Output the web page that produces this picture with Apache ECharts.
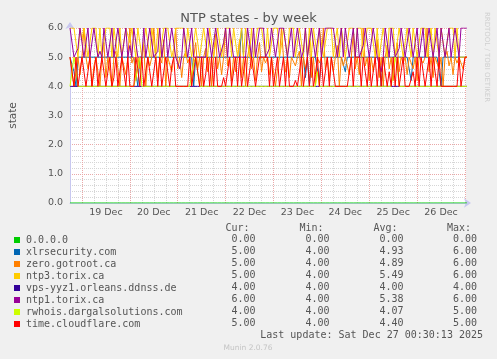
<!DOCTYPE html>
<html>
<head>
<meta charset="utf-8">
<script src="https://cdn.jsdelivr.net/npm/echarts@6/dist/echarts.min.js"></script>
<style>html,body{margin:0;padding:0;background:#F0F0F0;}#c{width:497px;height:359px;}</style>
</head>
<body>
<div id="c"></div>
<script>
// ---- data ----
const startTime = new Date(2025, 11, 18, 18, 0).getTime();
const endTime = new Date(2025, 11, 27, 0, 30).getTime();
const stepHours = 1;
const monthNames = ['Jan','Feb','Mar','Apr','May','Jun','Jul','Aug','Sep','Oct','Nov','Dec'];
const yTicks = ['0.0','1.0','2.0','3.0','4.0','5.0','6.0'];

const names = ['0.0.0.0','xlrsecurity.com','zero.gotroot.ca','ntp3.torix.ca','vps-yyz1.orleans.ddnss.de','ntp1.torix.ca','rwhois.dargalsolutions.com','time.cloudflare.com'];
const colors = ['#00CC00','#0066B3','#FF8000','#FFCC00','#330099','#990099','#CCFF00','#FF0000'];
const curVals = ['0.00','5.00','5.00','5.00','4.00','6.00','4.00','5.00'];
const minVals = ['0.00','4.00','4.00','4.00','4.00','4.00','4.00','4.00'];
const avgVals = ['0.00','4.93','4.89','5.49','4.00','5.38','4.07','4.40'];
const maxVals = ['0.00','6.00','6.00','6.00','4.00','6.00','5.00','5.00'];

// hourly values, one row per day (18:00 -> 17:00), last row partial
const zeroSeries = [
0,0,0,0,0,0,0,0,0,0,0,0,0,0,0,0,0,0,0,0,0,0,0,0,
0,0,0,0,0,0,0,0,0,0,0,0,0,0,0,0,0,0,0,0,0,0,0,0,
0,0,0,0,0,0,0,0,0,0,0,0,0,0,0,0,0,0,0,0,0,0,0,0,
0,0,0,0,0,0,0,0,0,0,0,0,0,0,0,0,0,0,0,0,0,0,0,0,
0,0,0,0,0,0,0,0,0,0,0,0,0,0,0,0,0,0,0,0,0,0,0,0,
0,0,0,0,0,0,0,0,0,0,0,0,0,0,0,0,0,0,0,0,0,0,0,0,
0,0,0,0,0,0,0,0,0,0,0,0,0,0,0,0,0,0,0,0,0,0,0,0,
0,0,0,0,0,0,0,0,0,0,0,0,0,0,0,0,0,0,0,0,0,0,0,0,
0,0,0,0,0,0,0,0];
const xlrsecurity = [
5,5,4.5,4,5,5,5,5,5,5,5,5,5,5,5,5,5,5,5,5,5,5,5,5,
5,5,5,5,5,5,5,5,5,5,4,5,5,5,5,5,5,5,5,5,5,5,5,5,
5,5,5,5,5,5,5,5,5,5,5,5,5,5,4,5,5,5,5,5,5,5,5,5,
5,5,5,5,5,5,5,5,5,5,5,5,5,5,6,5,5,5,5,5,5,5,5,5,
5,5,5,5,5,5,5,5,5,5,5,5,5,5,5,5,5,5,5,5,5,5,4.3,5,
4,5,5,5,5,4.2,5,5,5,5,5,5,5,5,5,5,5,5,4.5,5,5,5,5,5,
5,5,5,5,5,5,5,5,5,5,5,5,4,5,5,5,5,5,5,5,5,5,5,5,
5,5,5,4.2,5,5,5,5,5,5,5,5,5,5,5,5,5,5,4,5,5,5,5,5,
5,5,5,5,5,5,5,5];
const zeroGotroot = [
5,4.5,4,4,5,4.4,5,6,5,4.6,5,4,4.7,5,5,4,5,5.5,4.3,5,4.5,4,5,5.2,
4.6,4,5,5,4.4,5,6,4.8,5,4.2,5,4.6,5,5.4,4,5,4.7,5,6,5,4.3,5,4.8,5.6,
4,5,5,4.5,5,6,4.6,5,4.3,5,5.2,4.8,5,4.2,5,5.5,4.6,5,4,5,5.3,4.5,5,4,
5,5.8,4.6,5,4.4,5,6,4.7,5,4.2,5,4.5,5,5.6,4.3,5,4,5,5.4,4.6,5,4.2,5,5.5,
4.5,5,4.8,5,4.4,5,5,4,4.6,5,6,5,4.5,5,4.3,5,5,4.7,5,5.2,4,5,4.6,5,
5.5,4.3,5,4,5,4.8,5,6,4.6,5,4.2,5,4.5,5,5.4,4,5,4.7,5,5,4.4,5,5.8,4.6,
5,4.4,5,6,4.7,5,4.2,5,4.5,5,5.6,4.3,5,4,5,5.4,4.6,5,4.2,5,5.5,4.5,5,4.8,
5,4.4,5,5,4.6,5,4.2,5,5,4.8,5,6,4.5,5,4.3,5,5,4.6,5,4,5,5.2,4.7,5,
4.4,5,4.8,5,5,4.6,5,5];
const ntp3 = [
6,6,6,6,5,6,5.6,6,6,5,5,6,6,6,5,6,5,5,6,6,6,5,6,6,
5,6,5,5,6,6,5.5,6,6,5,6,6,5,5,6,6,5,6,6,5,6,5,5,6,
6,6,6,5,5.3,6,6,6,6,6,5,6,6,5,5,6,6,5,5.5,6,6,5,6,6,
5,5,6,6,5,5,6,6,6,5,6,6,5,5,6,5,6,6,5,6,5,5,6,6,
6,6,5,6,5,5,6,6,6,5,5.4,6,6,5,6,6,6,5,5,6,6,5,6,5,
6,5,6,6,5,6,6,5,5,6,6,6,5,5.6,6,5,6,6,5,5,6,6,6,5,
6,6,6,5,5,6,6,6,6,5,6,5,5,6,6,5,6,6,6,5,5.5,6,6,5,
5,6,6,5,6,6,5,5,6,6,6,5,5,6,5,6,6,5,6,6,5,5,6,6,
6,5,6,5,5,5,5,5];
const vpsYyz1 = [
4,4,4,4,4,4,4,4,4,4,4,4,4,4,4,4,4,4,4,4,4,4,4,4,
4,4,4,4,4,4,4,4,4,4,4,4,4,4,4,4,4,4,4,4,4,4,4,4,
4,4,4,4,4,4,4,4,4,4,4,4,4,4,4,4,4,4,4,4,4,4,4,4,
4,4,4,4,4,4,4,4,4,4,4,4,4,4,4,4,4,4,4,4,4,4,4,4,
4,4,4,4,4,4,4,4,4,4,4,4,4,4,4,4,4,4,4,4,4,4,4,4,
4,4,4,4,4,4,4,4,4,4,4,4,4,4,4,4,4,4,4,4,4,4,4,4,
4,4,4,4,4,4,4,4,4,4,4,4,4,4,4,4,4,4,4,4,4,4,4,4,
4,4,4,4,4,4,4,4,4,4,4,4,4,4,4,4,4,4,4,4,4,4,4,4,
4,4,4,4,4,4,4,4];
const ntp1 = [
6,6,5,5,5.3,6,6,5,5,6,5,5,6,6,5,5.2,5,6,6,5,5,6,5,5,
6,6,5,5,6,5,5.4,5,6,6,5,5,5,6,5,5,6,6,5,5,5.2,6,5,5,
6,5,5,6,6,5,5,4.6,5,6,6,5,5,6,5,5,5,5,5,5,5,6,6,5,
5,6,6,5,5,5.5,6,5,6,6,5,5,5,5,5,5,5,6,6,5,6,5,5,6,
6,6,5,5,5.3,6,6,5,5,6,6,6,6,5,5,6,5,5,6,6,5,5.2,6,5,
5,6,6,5,5,6,5,5,6,6,6,6,6,6,5,5,6,5,6,6,5,5,6,5,
6,5,5,5.4,6,6,5,5,6,6,5,5,4.5,5,6,6,5,6,6,5,5,5.3,6,6,
5,5,6,6,5,5.5,6,5,5,6,5,5,6,6,5,5,6,5,6,6,5,5,6,5,
5,6,6,5,6,6,6,6];
const rwhois = [
4,4,5,4.6,4,4,4,4,4,4,4,4,4,4,4,4,4,4,4,4,4,4,4,4,
4,4,4,4,4,4,4,4,4,4,4.6,5,4,4,4,4,4,4,4,4,4,4,4,4,
4,4,4,4,4,4,4,4,4,4,4,4,4,4,4.8,5,4.5,4,4,4,4,4,4,4,
4,4,4,4,4,4,4,4,4,4,4,4,4,4,4,4,4,4,4,4,4,4,4,4,
4,4,4,4,4,4,4,4,4,4,4,4,4,4,4,4,4,4,4,4,4,4,4,4,
4,4,4,4,4.5,4,4,4,4,4,4,4,4,4,4,4,4,4,4,4,4,4,4,4,
4,4,4,4,4,4,4,4,4,4,4,4,4,4,4,4,4,4,4,5,4.7,4,4,4,
4,4,4,4,4,4,4,4,4,4,4,4,4,4,4,4,4,4,4,4,4,4,4,4,
4,4,4,4,4,4,4,4];
const cloudflare = [
5,5,4,5,4,4,5,5,4,4.5,5,4,4,5,4,4,5,5,4,4,5,4,4.3,5,
4,4,5,5,4,5,4,4,4,5,4.6,4,5,4,4,5,5,4,4,5,4,5,4,4,
5,5,4,4.7,5,4,4,4,4,4,4,4,5,4,4,5,5,4,5,4,4.4,5,4,5,
4,5,4,4,4,4.3,4,4,5,4,4,5,4,5,4,4.5,5,4,4,5,5,4,4,5,
5,5,5,5,4,5,4,4.5,5,4,4,5,4,5,4,4,4,4.2,4,4,5,4,4,5,
4,5,4,4.4,5,4,5,4,4,5,4,5,5,4,4,4,4,4,4,4,4,5,4,5,
5,5,4,5,5,4,5,4,4,5,4,5,4,5,5,4,4.5,4,5,4,5,4,4,5,
4,4,4,4,4.5,4,5,4,5,5,4,4,5,4,5,5,4,5,4,4,4,4,4,4,
4,4,4,5,4,4,5,5];

const seriesValues = [zeroSeries, xlrsecurity, zeroGotroot, ntp3, vpsYyz1, ntp1, rwhois, cloudflare];
const times = xlrsecurity.map((_, i) => startTime + i * stepHours * 3600000);

// ---- chart ----
const H = 3600000, SLOT = H / 2;
const slotCount = Math.round((endTime - startTime) / SLOT) + 1;
const slots = [];
for (let i = 0; i < slotCount; i++) slots.push(String(startTime + i * SLOT));
const slotDate = (i) => new Date(startTime + i * SLOT);

const FONT = 'DejaVu Sans';
const MONO = 'DejaVu Sans Mono';
const TXT = '#555';
const chart = echarts.init(document.getElementById('c'), null, {renderer: 'canvas'});

const series = names.map((n, k) => ({
  name: n,
  type: 'line',
  xAxisIndex: 2,
  yAxisIndex: 0,
  symbol: 'none',
  showSymbol: false,
  lineStyle: {width: 1, color: colors[k]},
  itemStyle: {color: colors[k]},
  emphasis: {disabled: true},
  data: times.map((t, i) => [t, seriesValues[k][i]])
}));

const graphics = [];
const colRight = [255.5, 329.5, 403.5, 477];
const headRight = [249.5, 323.5, 397.5, 471];
const heads = ['Cur:', 'Min:', 'Avg:', 'Max:'];
const cols = [curVals, minVals, avgVals, maxVals];
heads.forEach((h, c) => {
  graphics.push({type: 'text', x: headRight[c], y: 228, style: {text: h, fill: TXT, font: '10px "' + MONO + '"', textAlign: 'right', textVerticalAlign: 'middle'}});
  cols[c].forEach((v, r) => {
    graphics.push({type: 'text', x: colRight[c], y: 239.7 + 12 * r, style: {text: v, fill: TXT, font: '10px "' + MONO + '"', textAlign: 'right', textVerticalAlign: 'middle'}});
  });
});
graphics.push({type: 'text', x: 483, y: 335.5, style: {text: 'Last update: Sat Dec 27 00:30:13 2025', fill: TXT, font: '10px "' + MONO + '"', textAlign: 'right', textVerticalAlign: 'middle'}});
graphics.push({type: 'text', x: 248, y: 348.5, style: {text: 'Munin 2.0.76', fill: '#c4c4c4', font: '7.5px "' + FONT + '"', textAlign: 'center', textVerticalAlign: 'middle'}});
graphics.push({type: 'text', x: 487, y: 57, rotation: -Math.PI / 2, style: {text: 'RRDTOOL / TOBI OETIKER', fill: '#cfcfcf', font: '7px "' + FONT + '"', textAlign: 'center', textVerticalAlign: 'middle'}});

const option = {
  backgroundColor: '#F0F0F0',
  animation: false,
  title: {
    text: 'NTP states - by week',
    left: 'center',
    top: 12,
    padding: 0,
    textStyle: {color: TXT, fontSize: 13, fontWeight: 'normal', fontFamily: FONT}
  },
  legend: {
    orient: 'vertical',
    left: 14,
    top: 234,
    padding: 0,
    itemGap: 0,
    itemWidth: 6,
    itemHeight: 6,
    icon: 'rect',
    selectedMode: false,
    data: names,
    textStyle: {color: TXT, fontSize: 10, fontFamily: MONO, lineHeight: 12, padding: [0, 0, 0, 1]}
  },
  grid: {left: 67, right: 31, top: 28, bottom: 156, show: true, backgroundColor: '#ffffff', borderWidth: 0},
  xAxis: [
    {
      // minor 6-hour grid
      type: 'category', position: 'bottom', data: slots, boundaryGap: false,
      axisLine: {show: false}, axisTick: {show: false}, axisLabel: {show: false},
      splitLine: {show: true, interval: function (i) { const d = slotDate(i); return d.getMinutes() === 0 && d.getHours() % 6 === 0; },
        lineStyle: {color: '#d6d6d6', width: 1, type: [1, 1]}}
    },
    {
      // day grid + date labels at noon
      type: 'category', position: 'bottom', data: slots, boundaryGap: false,
      axisLine: {show: false}, axisTick: {show: false},
      splitLine: {show: true, interval: function (i) { const d = slotDate(i); return d.getMinutes() === 0 && d.getHours() === 0; },
        lineStyle: {color: '#eaa8a8', width: 1, type: [1, 1]}},
      axisLabel: {
        show: true, margin: 5, color: TXT, fontSize: 9.5, fontFamily: FONT,
        interval: function (i) { const d = slotDate(i); return d.getMinutes() === 0 && d.getHours() === 12; },
        formatter: function (v, i) { const d = slotDate(i); return d.getDate() + ' ' + monthNames[d.getMonth()]; }
      }
    },
    {
      // data axis
      type: 'value', position: 'bottom', min: startTime, max: endTime,
      axisLine: {show: true, onZero: false, lineStyle: {color: '#c8c8f0', width: 1}, symbol: ['none', 'arrow'], symbolSize: [7, 7], symbolOffset: [0, 5]},
      axisTick: {show: false}, axisLabel: {show: false}, splitLine: {show: false}
    }
  ],
  yAxis: [{
    type: 'value', min: 0, max: 6, interval: 1,
    name: 'state', nameLocation: 'middle', nameGap: 51, nameRotate: 90,
    nameTextStyle: {color: TXT, fontSize: 10.5, fontFamily: FONT},
    axisLine: {show: true, onZero: false, lineStyle: {color: '#c8c8f0', width: 1}, symbol: ['none', 'arrow'], symbolSize: [7, 7], symbolOffset: [0, 6]},
    axisTick: {show: false},
    axisLabel: {margin: 7, color: TXT, fontSize: 9.5, fontFamily: FONT, formatter: function (v) { return yTicks[Math.round(v)]; }},
    splitLine: {show: true, lineStyle: {color: '#eaa8a8', width: 1, type: [1, 1]}},
    minorTick: {show: false, splitNumber: 5},
    minorSplitLine: {show: true, lineStyle: {color: '#d6d6d6', width: 1, type: [1, 1]}}
  }],
  series: series,
  graphic: graphics
};
chart.setOption(option);
</script>
</body>
</html>
